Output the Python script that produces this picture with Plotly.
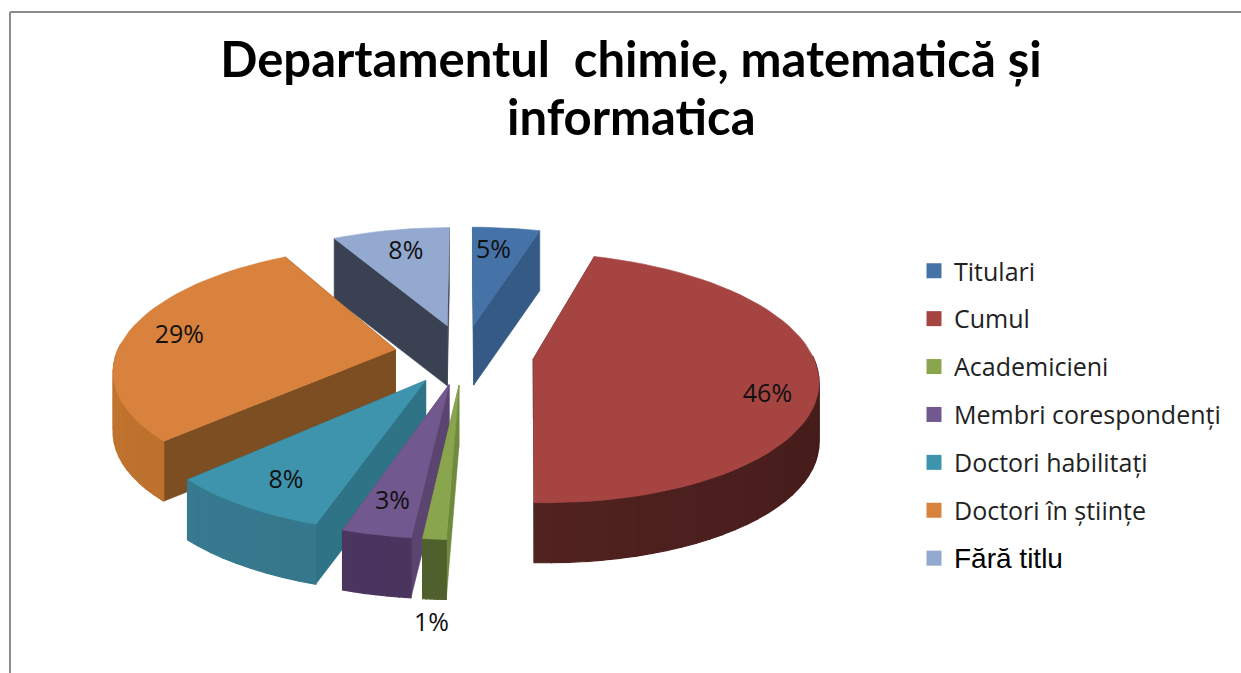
import math
import plotly.graph_objects as go

# ---- data ----
categories = ["Titulari", "Cumul", "Academicieni", "Membri corespondenți",
              "Doctori habilitați", "Doctori în științe", "Fără titlu"]
values = [4.6, 46.0, 1.1, 3.3, 7.95, 29.15, 8.0]
percent_labels = ["5%", "46%", "1%", "3%", "8%", "29%", "8%"]

# ---- styles ----
top_colors = ["#4572A7", "#A64442", "#89A54E", "#71588F", "#3F94AD", "#D8823D", "#93A9CF"]
wall_colors = ["#355A85", "#4A1E1C", "#6E8A3C", "#5C4470", "#2E7386", "#7D4E22", "#3A4152"]
rim_start = ["#355A85", "#421B19", "#50602D", "#46325A", "#2E6A7D", "#A96228", "#3A4152"]
rim_end = ["#355A85", "#5E2826", "#50602D", "#4C3862", "#3A7F95", "#C2752F", "#3A4152"]
label_radius = [0.80, 0.82, 1.41, 0.74, 0.72, 0.72, 0.80]
label_nudge = [(-7, 6), (1, 20), (10, 5), (-5, 12), (-14, 15), (-23, 0), (5, 5)]

CX, CY = 464, 354
A, B, K = 279, 120.7, 0.15
EXPLODE = 0.25
DEPTH = 60


def project(u, v):
    w = 1 - K * v
    return CX + A * u / w, CY + B * v / w


def hex2rgb(c):
    return tuple(int(c[i:i + 2], 16) for i in (1, 3, 5))


def mix(c1, c2, t):
    a, b = hex2rgb(c1), hex2rgb(c2)
    return "rgb(%d,%d,%d)" % tuple(round(a[i] + (b[i] - a[i]) * t) for i in range(3))


def poly(pts, color, lw=0.6):
    xs = [p[0] for p in pts] + [pts[0][0]]
    ys = [p[1] for p in pts] + [pts[0][1]]
    return go.Scatter(x=xs, y=ys, mode="lines", fill="toself", fillcolor=color,
                      line=dict(color=color, width=lw), hoverinfo="skip", showlegend=False)


total = sum(values)
slices = []
acc = 0.0
for i, val in enumerate(values):
    a0 = acc / total * 2 * math.pi
    acc += val
    a1 = acc / total * 2 * math.pi
    mid = (a0 + a1) / 2
    slices.append(dict(i=i, a0=a0, a1=a1, mid=mid,
                       ou=EXPLODE * math.sin(mid), ov=-EXPLODE * math.cos(mid)))

fig = go.Figure()

for s in sorted(slices, key=lambda q: -math.cos(q["mid"])):
    i = s["i"]
    n = max(6, int((s["a1"] - s["a0"]) / math.radians(3)))
    angles = [s["a0"] + (s["a1"] - s["a0"]) * j / n for j in range(n + 1)]
    apex = project(s["ou"], s["ov"])
    edge = [project(s["ou"] + math.sin(t), s["ov"] - math.cos(t)) for t in angles]

    def down(p):
        return (p[0], p[1] + DEPTH)

    walls = [(edge[0], -math.cos(s["a0"])), (edge[-1], -math.cos(s["a1"]))]
    walls.sort(key=lambda w: w[1])
    for e, _ in walls:
        fig.add_trace(poly([apex, e, down(e), down(apex)], wall_colors[i]))

    for j in range(n):
        tm = (angles[j] + angles[j + 1]) / 2
        if -math.cos(tm) <= -0.02:
            continue
        t = (tm - math.pi / 2) / math.pi
        col = mix(rim_start[i], rim_end[i], max(0, min(1, t)))
        fig.add_trace(poly([edge[j], edge[j + 1], down(edge[j + 1]), down(edge[j])], col, 1.2))

    fig.add_trace(poly([apex] + edge, top_colors[i]))

# percentage labels
lx, ly = [], []
for s in slices:
    r = label_radius[s["i"]]
    p = project(s["ou"] + r * math.sin(s["mid"]), s["ov"] - r * math.cos(s["mid"]))
    lx.append(p[0] + label_nudge[s["i"]][0])
    ly.append(p[1] + label_nudge[s["i"]][1])
fig.add_trace(go.Scatter(x=lx, y=ly, mode="text", text=percent_labels,
                         textfont=dict(family="Open Sans", size=25, color="#111111"),
                         textposition="middle center", hoverinfo="skip", showlegend=False))

# legend
for i, name in enumerate(categories):
    label = name
    if name == "Fără titlu":
        label = "<span style=\"font-family:'Liberation Sans';font-size:28px;color:#000\">%s</span>" % name
    fig.add_trace(go.Scatter(x=[None], y=[None], mode="markers", name=label,
                             legendgroup=name,
                             marker=dict(symbol="square", size=15, color=top_colors[i])))

frame = "#8C8C8C"
fig.update_layout(
    width=1241, height=673, margin=dict(l=0, r=0, t=0, b=0),
    paper_bgcolor="white", plot_bgcolor="white",
    title=dict(text="Departamentul\u00a0\u00a0chimie, matematică și",
               x=631 / 1241, xanchor="center", y=1 - 60 / 673, yanchor="middle",
               font=dict(family="Lato", size=49, color="#000000", weight="bold")),
    annotations=[dict(text="informatica", xref="paper", yref="paper", x=631 / 1241,
                      y=1 - 116 / 673, xanchor="center", yanchor="middle", showarrow=False,
                      font=dict(family="Lato", size=49, color="#000000", weight="bold"))],
    xaxis=dict(range=[0, 1241], visible=False, fixedrange=True),
    yaxis=dict(range=[673, 0], visible=False, fixedrange=True),
    legend=dict(x=914 / 1241, y=1 - 248 / 673, xanchor="left", yanchor="top",
                font=dict(family="Open Sans", size=25, color="#222222"),
                tracegroupgap=12.4, itemwidth=30, traceorder="grouped",
                bgcolor="rgba(0,0,0,0)"),
    shapes=[
        dict(type="line", xref="x", yref="y", x0=10, x1=10, y0=12, y1=673,
             line=dict(color=frame, width=2)),
        dict(type="line", xref="x", yref="y", x0=10, x1=1241, y0=12, y1=12,
             line=dict(color=frame, width=2)),
    ],
)

fig.write_html("out.html", post_script="document.body.style.margin='0';",
               config=dict(displayModeBar=False))
